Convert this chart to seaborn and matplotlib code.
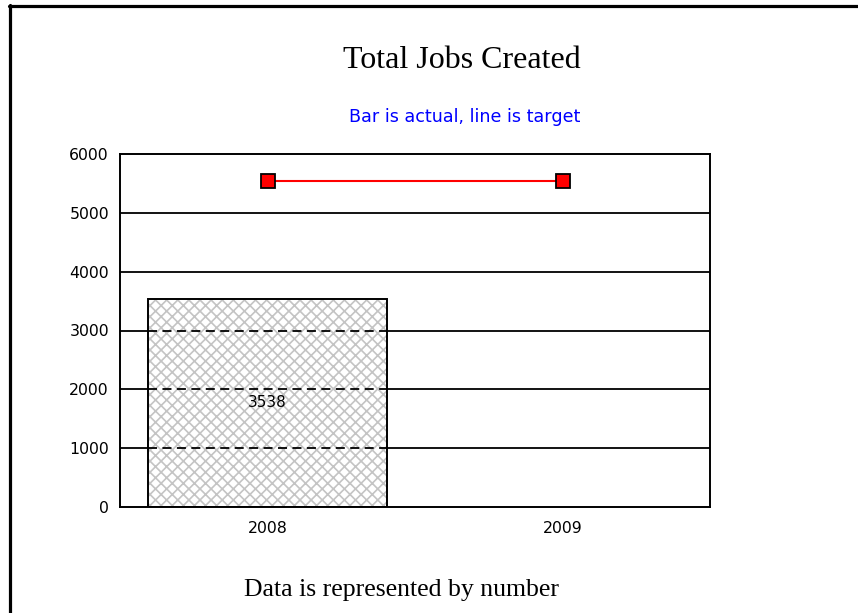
import matplotlib
matplotlib.use("Agg")
import matplotlib.pyplot as plt
from matplotlib.lines import Line2D
import seaborn as sns
import pandas as pd
import numpy as np

years = ["2008", "2009"]
actual_years = ["2008"]
actual_values = [3538]
target_values = [5540, 5540]
y_ticks = [0, 1000, 2000, 3000, 4000, 5000, 6000]

title = "Total Jobs Created"
subtitle = "Bar is actual, line is target"
footer = "Data is represented by number"

sns.set_style("white")
plt.rcParams["font.family"] = ["DejaVu Sans"]
plt.rcParams["hatch.linewidth"] = 1.2

fig = plt.figure(figsize=(8.58, 6.13), dpi=100)
ax = fig.add_axes([120/858, 1-507/613, 590/858, 353/613])

# gridlines (solid, behind)
for v in y_ticks[1:-1]:
    ax.axhline(v, color="black", lw=1.3, zorder=0)

df_actual = pd.DataFrame({"year": actual_years, "value": actual_values})
sns.barplot(data=df_actual, x="year", y="value", order=years, ax=ax,
            width=0.81, color="white", edgecolor="#c4c4c4", linewidth=0,
            hatch="xxx", zorder=1)
for p in ax.patches:
    p.set_hatch("xxx")
    p.set_edgecolor("#c4c4c4")
    p.set_linewidth(0)

# bar outline and dashed grid inside bar
bars = list(ax.patches)
for p in bars:
    x0, w, h = p.get_x(), p.get_width(), p.get_height()
    ax.bar(x0 + w/2, h, width=w, fill=False, edgecolor="black", linewidth=1.4, zorder=3)
    for v in y_ticks[1:-1]:
        if v < h:
            ax.hlines(v, x0, x0 + w, colors="black", linestyles=(0, (5, 3)), lw=1.3, zorder=2)

ax.bar_label(ax.containers[0], labels=[str(v) for v in actual_values],
             label_type="center", fontsize=11, color="black")

df_target = pd.DataFrame({"year": years, "target": target_values})
sns.pointplot(data=df_target, x="year", y="target", order=years, ax=ax,
              color="red", markers="s", markersize=10, markeredgecolor="black",
              markeredgewidth=1.3, linewidth=1.5, zorder=4)

ax.set_xlim(-0.5, 1.5)
ax.set_ylim(0, 6000)
ax.set_yticks(y_ticks)
ax.set_yticklabels([str(v) for v in y_ticks])
ax.set_xlabel("")
ax.set_ylabel("")
ax.tick_params(axis="both", length=0, labelsize=11.3, colors="black")
ax.tick_params(axis="y", pad=8)
ax.tick_params(axis="x", pad=10)
for s in ax.spines.values():
    s.set_visible(True)
    s.set_color("black")
    s.set_linewidth(1.4)

fig.text(462/858, 1-60/613, title, ha="center", va="center",
         fontsize=23, family="Liberation Serif", color="black")
fig.text(465/858, 1-117/613, subtitle, ha="center", va="center",
         fontsize=12.6, family="DejaVu Sans", color="#0000ff")
fig.text(402/858, 1-590/613, footer, ha="center", va="center",
         fontsize=18.5, family="Liberation Serif", color="black")

fig.add_artist(Line2D([10/858, 10/858], [0, 1-5/613], transform=fig.transFigure,
                      color="black", lw=2.3))
fig.add_artist(Line2D([9/858, 1], [1-6/613, 1-6/613], transform=fig.transFigure,
                      color="black", lw=2.3))

fig.savefig("out.png", dpi=100, facecolor="white")
